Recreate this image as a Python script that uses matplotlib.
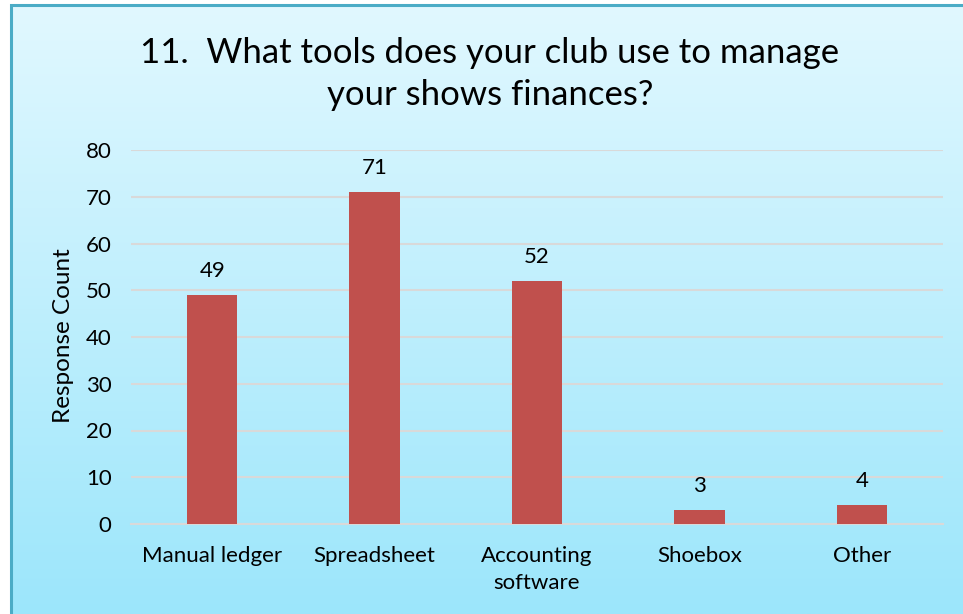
import matplotlib
matplotlib.use("Agg")
import matplotlib.pyplot as plt
import numpy as np
from matplotlib.patches import Rectangle

categories = ["Manual ledger", "Spreadsheet", "Accounting\nsoftware", "Shoebox", "Other"]
values = [49, 71, 52, 3, 4]
yticks = [0, 10, 20, 30, 40, 50, 60, 70, 80]
title = "11.  What tools does your club use to manage\nyour shows finances?"
ylabel = "Response Count"

plt.rcParams['font.family'] = ['Lato', 'DejaVu Sans']

W, H = 963, 614
fig = plt.figure(figsize=(W / 100, H / 100), dpi=100)
fig.patch.set_facecolor("white")

# background gradient panel
x0 = 11 / W
y1 = 1 - 5 / H
bg = fig.add_axes([x0, 0, 1 - x0, y1], zorder=0)
top = np.array([0xE1, 0xF8, 0xFF]) / 255
bot = np.array([0x9C, 0xE6, 0xFB]) / 255
t = np.linspace(0, 1, 256)[:, None]
grad = top * (1 - t) + bot * t
bg.imshow(grad[:, None, :].repeat(2, axis=1), aspect="auto", extent=[0, 1, 0, 1])
bg.set_xlim(0, 1)
bg.set_ylim(0, 1)
bg.axis("off")
fig.add_artist(Rectangle((x0, -0.05), 1.2, y1 + 0.05, transform=fig.transFigure,
                         fill=False, edgecolor="#4BACC6", linewidth=2.2, zorder=1))

ax = fig.add_axes([131 / W, 1 - 524 / H, (943 - 131) / W, (524 - 150) / H], zorder=2)
ax.patch.set_alpha(0)
x = np.arange(len(categories))
bars = ax.bar(x, values, width=0.31, color="#C0504D", zorder=3)
ax.set_xlim(-0.5, len(categories) - 0.5)
ax.set_ylim(0, 80)
ax.set_yticks(yticks)
ax.yaxis.grid(True, color="#D9D9D9", linewidth=1.5, zorder=0)
ax.set_axisbelow(True)
for s in ["top", "right", "left"]:
    ax.spines[s].set_visible(False)
ax.spines["bottom"].set_color("#D9D9D9")
ax.spines["bottom"].set_linewidth(1.5)
ax.tick_params(length=0, labelsize=16, colors="black", pad=14)
ax.tick_params(axis="x", pad=16)
ax.set_xticks(x)
ax.set_xticklabels(categories, linespacing=1.45)

for b, v in zip(bars, values):
    ax.annotate(str(v), (b.get_x() + b.get_width() / 2, v), xytext=(0, 10),
                textcoords="offset points", ha="center", va="bottom", fontsize=16)

fig.text(63 / W, 1 - 336 / H, ylabel, rotation=90, ha="center", va="center", fontsize=17.5)
fig.text(490 / W, 1 - 74 / H, title, ha="center", va="center", fontsize=25, linespacing=1.42)

fig.savefig("out.png", dpi=100)
